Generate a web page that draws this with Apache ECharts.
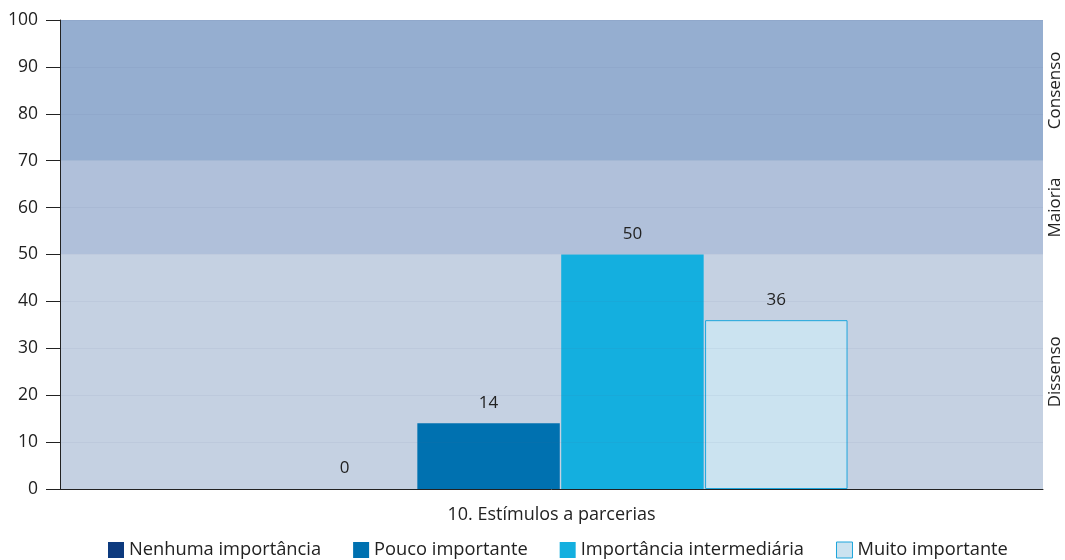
<!DOCTYPE html>
<html>
<head>
<meta charset="utf-8">
<script src="https://cdn.jsdelivr.net/npm/echarts@6/dist/echarts.min.js"></script>
<style>
  html, body { margin: 0; padding: 0; background: #fff; }
  #chart { width: 1065px; height: 560px; }
</style>
</head>
<body>
<div id="chart"></div>
<script>
const categories = ['10. Estímulos a parcerias'];
const seriesNames = ['Nenhuma importância', 'Pouco importante', 'Importância intermediária', 'Muito importante'];
const seriesValues = [[0], [14], [50], [36]];
const yTicks = [0, 10, 20, 30, 40, 50, 60, 70, 80, 90, 100];
const bandRanges = [[0, 50], [50, 70], [70, 100]];
const bandNames = ['Dissenso', 'Maioria', 'Consenso'];

const FONT = '"Open Sans", "Noto Sans", sans-serif';
const colors = ['#0d3a7e', '#0071b0', '#14afdf', '#cbe3f0'];
const borders = ['#0d3a7e', '#3c86c0', '#14afdf', '#1ea6dc'];
const bandColors = ['#c5d1e2', '#b0c0da', '#95aed0'];

const chart = echarts.init(document.getElementById('chart'));

// bars live in a second, slightly offset grid sharing the same value scale
const series = seriesNames.map((name, i) => ({
  name,
  type: 'bar',
  xAxisIndex: 1,
  yAxisIndex: 1,
  data: seriesValues[i],
  barGap: '1%',
  barCategoryGap: '41.6%',
  z: 3,
  itemStyle: { color: colors[i], borderColor: borders[i], borderWidth: i === 3 ? 1 : 0 },
  label: {
    show: true,
    position: 'top',
    distance: 12,
    color: '#222',
    fontSize: 17,
    fontFamily: FONT
  }
}));

// background bands with their names on the right edge
series.push({
  type: 'bar',
  xAxisIndex: 0,
  yAxisIndex: 0,
  data: [],
  silent: true,
  z: 1,
  markArea: {
    silent: true,
    data: bandRanges.map((r, i) => [
      {
        yAxis: r[0],
        itemStyle: { color: bandColors[i] },
        label: {
          show: true,
          formatter: bandNames[i],
          position: 'right',
          rotate: 90,
          align: 'center',
          verticalAlign: 'middle',
          distance: 12,
          color: '#222',
          fontSize: 17,
          fontFamily: FONT
        }
      },
      { yAxis: r[1] }
    ])
  }
});

chart.setOption({
  animation: false,
  color: colors,
  grid: [
    { left: 60, right: 22, top: 20, bottom: 71 },
    { left: 69, right: 13, top: 20, bottom: 71 }
  ],
  legend: {
    top: 536,
    left: 103,
    itemWidth: 16,
    itemHeight: 16,
    itemGap: 32,
    icon: 'rect',
    textStyle: { color: '#222', fontSize: 18.3, fontFamily: FONT },
    data: seriesNames.map((n, i) => ({
      name: n,
      itemStyle: { color: colors[i], borderColor: borders[i], borderWidth: i === 3 ? 1 : 0 }
    }))
  },
  xAxis: [
    {
      type: 'category',
      gridIndex: 0,
      data: categories,
      axisLine: { lineStyle: { color: '#222', width: 1 } },
      axisTick: { show: false },
      axisLabel: { color: '#222', fontSize: 18, fontFamily: FONT, margin: 17 },
      z: 5
    },
    {
      type: 'category',
      gridIndex: 1,
      data: categories,
      show: false
    }
  ],
  yAxis: [
    {
      type: 'value',
      gridIndex: 0,
      min: 0,
      max: 100,
      interval: 10,
      axisLine: { show: true, lineStyle: { color: '#222', width: 1 } },
      axisTick: { show: true, length: 14, lineStyle: { color: '#222' } },
      axisLabel: {
        color: '#222', fontSize: 17.5, fontFamily: FONT, margin: 22,
        formatter: v => (yTicks.indexOf(v) >= 0 ? String(v) : '')
      },
      splitLine: { show: true, lineStyle: { color: 'rgba(80,100,140,0.07)', width: 1 } },
      z: 5
    },
    {
      type: 'value',
      gridIndex: 1,
      min: 0,
      max: 100,
      interval: 10,
      show: false,
      splitLine: { show: false }
    }
  ],
  series
});
</script>
</body>
</html>
